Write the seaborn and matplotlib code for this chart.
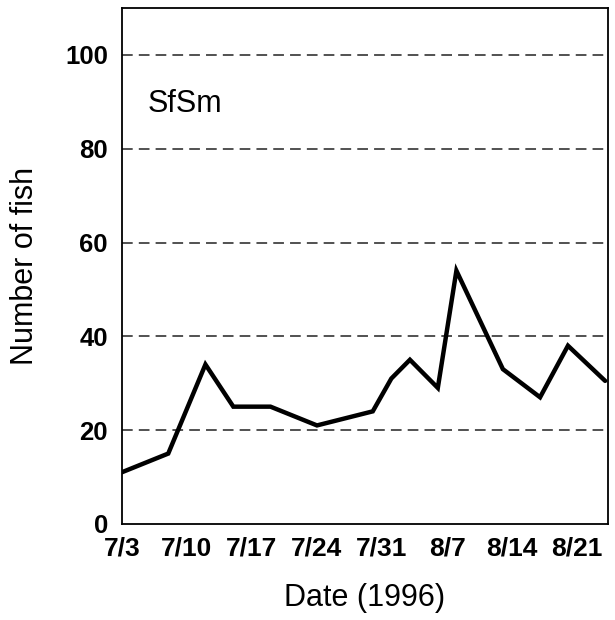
import matplotlib
matplotlib.use("Agg")
import matplotlib.pyplot as plt
import pandas as pd
import seaborn as sns

# sampling dates (1996) and fish counts
dates = ["7/3", "7/8", "7/12", "7/15", "7/19", "7/24", "7/30", "8/1",
         "8/3", "8/6", "8/8", "8/13", "8/17", "8/20", "8/24"]
counts = [11, 15, 34, 25, 25, 21, 24, 31, 35, 29, 54, 33, 27, 38, 30.5]

tick_dates = ["7/3", "7/10", "7/17", "7/24", "7/31", "8/7", "8/14", "8/21"]
y_ticks = [0, 20, 40, 60, 80, 100]
panel_label = "SfSm"


def to_dt(s):
    return pd.to_datetime("1996/" + s, format="%Y/%m/%d")


df = pd.DataFrame({"date": [to_dt(d) for d in dates], "count": counts})

sns.set_style("white")
plt.rcParams["font.family"] = ["Liberation Sans", "DejaVu Sans"]
plt.rcParams.update({
    "text.color": "black",
    "axes.labelcolor": "black",
    "xtick.color": "black",
    "ytick.color": "black",
})

fig = plt.figure(figsize=(6.15, 6.2), dpi=100)
ax = fig.add_axes([0.198, 0.155, 0.791, 0.832])

sns.lineplot(data=df, x="date", y="count", color="black", linewidth=3.2,
             ax=ax, solid_joinstyle="miter")

for v in y_ticks[1:]:
    ax.axhline(v, color="#222222", linestyle=(0, (7, 4)), linewidth=1.1,
               zorder=0)

ax.set_xlim(to_dt("7/3"), to_dt("8/24") + pd.Timedelta(hours=8))
ax.set_ylim(0, 110)
ax.set_xticks([to_dt(t) for t in tick_dates])
ax.set_xticklabels(tick_dates)
ax.set_yticks(y_ticks)
ax.tick_params(axis="both", length=0)
ax.tick_params(axis="y", pad=10, labelsize=18.5)
ax.tick_params(axis="x", pad=9, labelsize=19)
for lab in ax.get_xticklabels() + ax.get_yticklabels():
    lab.set_fontweight("bold")

for sp in ax.spines.values():
    sp.set_visible(True)
    sp.set_color("black")
    sp.set_linewidth(1.3)

ax.text(to_dt("7/5") + pd.Timedelta(hours=19), 89.5, panel_label,
        fontsize=22, va="center", ha="left")

ax.set_xlabel("Date (1996)", fontsize=22, labelpad=16)
ax.set_ylabel("Number of fish", fontsize=22, labelpad=18)

fig.savefig("out.png", dpi=100)
